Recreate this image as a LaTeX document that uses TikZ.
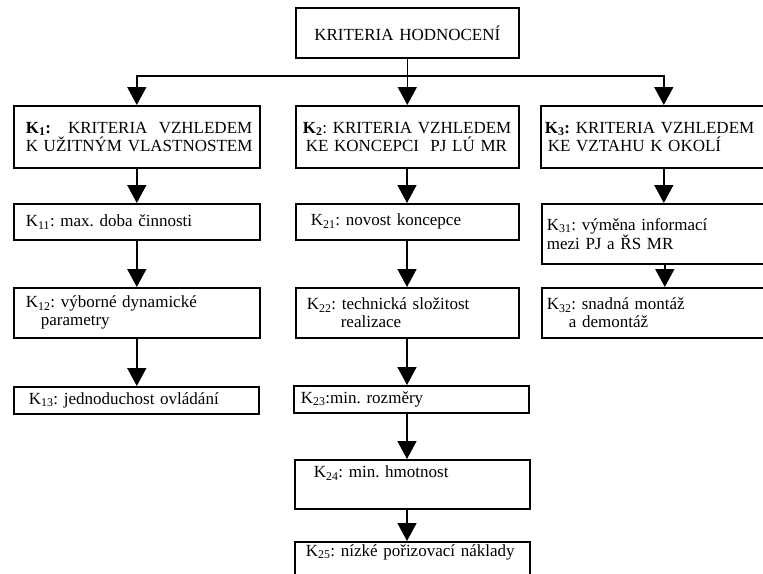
\documentclass[tikz,border=0pt]{standalone}
\usepackage{fontspec}
\setmainfont{Liberation Serif}
\usetikzlibrary{arrows.meta}
\newcommand{\Kx}[1]{K\textsubscript{#1}}
\newcommand{\Kb}[1]{\textbf{K\textsubscript{#1}:}}
\newcommand{\indt}[1]{\hspace*{#1pt}}
\frenchspacing
\begin{document}
\begin{tikzpicture}[x=1pt,y=-1pt,
  box/.style={draw,line width=1.6pt,anchor=north west,inner sep=0pt,align=left,
    font=\fontsize{17}{18}\selectfont},
  arr/.style={line width=1.6pt,-{Triangle[width=19pt,length=18pt]}}]
\useasboundingbox (0,0) rectangle (763,573);
\node[box,text width=223pt,minimum height=50pt,align=center] (top) at (295,7) {KRITERIA HODNOCENÍ};
\node[box,text width=246pt,minimum height=62pt] (k1) at (13,105) {\indt{12}\Kb{1}\ \ \ KRITERIA\ \ VZHLEDEM\\\indt{12}K UŽITNÝM VLASTNOSTEM};
\node[box,text width=223pt,minimum height=62pt] (k2) at (295,105) {\indt{7}\textbf{K\textsubscript{2}}: KRITERIA VZHLEDEM\\\indt{10}KE KONCEPCI\ \ PJ LÚ MR};
\node[box,text width=246pt,minimum height=62pt] (k3) at (540,105) {\indt{4}\Kb{3} KRITERIA VZHLEDEM\\\indt{7}KE VZTAHU K OKOLÍ};
\node[box,text width=246pt,minimum height=36pt] (k11) at (13,203) {\indt{12}\Kx{11}: max. doba činnosti};
\node[box,text width=223pt,minimum height=36pt] (k21) at (295,203) {\indt{15}\Kx{21}: novost koncepce};
\node[box,text width=246pt,minimum height=60pt] (k31) at (541,203) {\indt{5}\Kx{31}: výměna informací\\\indt{5}mezi PJ a ŘS MR};
\node[box,text width=246pt,minimum height=50pt] (k12) at (13,287) {\indt{12}\Kx{12}: výborné dynamické\\\indt{27}parametry};
\node[box,text width=223pt,minimum height=50pt] (k22) at (295,287) {\indt{11}\Kx{22}: technická složitost\\\indt{45}realizace};
\node[box,text width=246pt,minimum height=50pt] (k32) at (541,287) {\indt{5}\Kx{32}: snadná montáž\\\indt{27}a demontáž};
\node[box,text width=245pt,minimum height=27pt] (k13) at (13,386) {\indt{15}\Kx{13}: jednoduchost ovládání};
\node[box,text width=235pt,minimum height=27pt] (k23) at (293,385) {\indt{7}\Kx{23}:min. rozměry};
\node[box,text width=235pt,minimum height=49pt,text height=12pt,text depth=25pt] (k24) at (294,459) {\indt{19}\Kx{24}: min. hmotnost};
\node[box,text width=235pt,minimum height=40pt,text height=12pt,text depth=23pt] (k25) at (294,541) {\indt{11}\Kx{25}: nízké pořizovací náklady};
\coordinate (bar) at (0,76);
\coordinate (c2) at (407,0);
\draw[arr] (top.south) -- (k2.north);
\draw[arr] (top.south |- bar) -| (k1.north);
\draw[arr] (top.south |- bar) -| (k3.north);
\draw[arr] (k1.south) -- (k1.south |- k11.north);
\draw[arr] (k11.south) -- (k11.south |- k12.north);
\draw[arr] (k12.south) -- (k12.south |- k13.north);
\draw[arr] (k2.south -| c2) -- (k21.north -| c2);
\draw[arr] (k21.south -| c2) -- (k22.north -| c2);
\draw[arr] (k22.south -| c2) -- (k23.north -| c2);
\draw[arr] (k23.south -| c2) -- (k24.north -| c2);
\draw[arr] (k24.south -| c2) -- (k25.north -| c2);
\draw[arr] (k3.south) -- (k3.south |- k31.north);
\draw[arr] (k31.south) -- (k31.south |- k32.north);
\end{tikzpicture}
\end{document}
